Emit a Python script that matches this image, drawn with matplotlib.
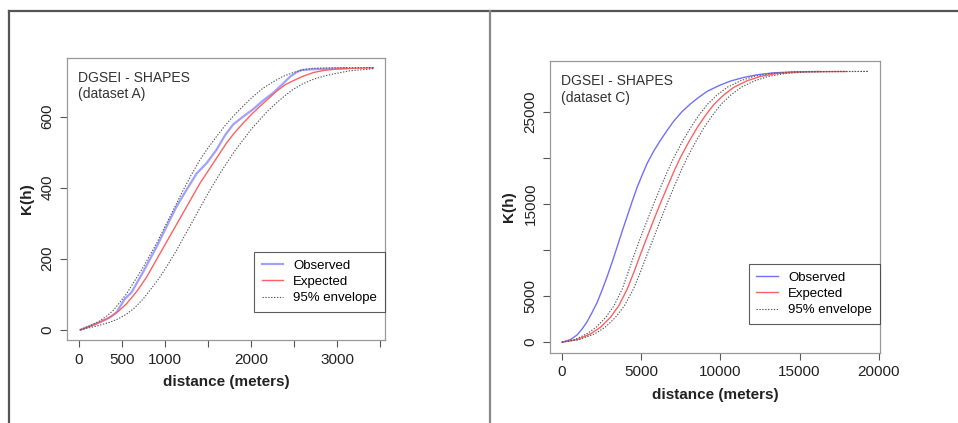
import matplotlib

matplotlib.use("Agg")
import matplotlib.pyplot as plt
from matplotlib.lines import Line2D

plt.rcParams["font.family"] = ["Liberation Sans", "DejaVu Sans"]

# dataset A (left panel)
a_obs_d = [20, 100, 167, 250, 322, 380, 438, 535, 612, 680, 748, 830, 903, 1019, 1136, 1252, 1370, 1485,
           1601, 1700, 1794, 1910, 2027, 2140, 2260, 2360, 2453, 2530, 2589, 2700, 2802, 3111]
a_obs_k = [0, 8, 14, 22, 30, 38, 49, 87, 105, 134, 163, 200, 233, 290, 347, 394, 440, 469,
           507, 548, 578, 600, 621, 645, 667, 690, 712, 725, 731, 733, 734, 736]
a_exp_d = [20, 200, 360, 460, 554, 680, 787, 942, 1097, 1252, 1407, 1562, 1717, 1811, 1911, 2005, 2105,
           2200, 2300, 2400, 2500, 2600, 2725, 2850, 2997, 3200, 3422]
a_exp_k = [0, 16, 35, 52, 73, 110, 148, 214, 280, 346, 412, 469, 526, 555, 582, 606, 629,
           650, 672, 690, 702, 713, 724, 730, 734, 736, 737]
a_hi_d = [20, 120, 244, 320, 399, 470, 554, 650, 748, 903, 1058, 1213, 1307, 1407, 1505, 1601, 1700, 1794,
          1910, 2027, 2140, 2260, 2370, 2492, 2608, 2725, 2900, 3422]
a_hi_k = [0, 10, 25, 38, 54, 75, 101, 138, 176, 243, 318, 393, 436, 478, 513, 544, 575, 601,
          630, 657, 680, 698, 713, 724, 732, 736, 737, 738]
a_lo_d = [20, 200, 360, 460, 554, 650, 748, 842, 942, 1040, 1136, 1230, 1329, 1426, 1523, 1620, 1717,
          1811, 1911, 2005, 2105, 2200, 2299, 2400, 2492, 2600, 2725, 2850, 2997, 3151, 3300, 3422]
a_lo_k = [0, 10, 21, 31, 44, 62, 87, 116, 148, 185, 224, 265, 308, 351, 393, 432, 469,
          503, 535, 565, 592, 617, 639, 660, 677, 692, 705, 714, 722, 729, 732, 735]

# dataset C (right panel)
c_obs_d = [0, 524, 948, 1263, 1579, 1895, 2211, 2527, 2843, 3159, 3474, 3790, 4106, 4422, 4738, 5054,
           5369, 5791, 6210, 6633, 7053, 7580, 8105, 8630, 9160, 9895, 10632, 11472, 12318, 13368,
           14845, 16300]
c_obs_k = [0, 281, 788, 1435, 2223, 3237, 4316, 5676, 7122, 8698, 10359, 12043, 13662, 15281, 16835, 18162,
           19424, 20784, 21938, 23017, 24025, 25067, 25898, 26610, 27262, 27874, 28379, 28774, 29060, 29276,
           29384, 29420]
c_exp_d = [0, 948, 1788, 2420, 3051, 3576, 4106, 4523, 4946, 5369, 5791, 6210, 6633, 7053, 7473, 7998,
           8528, 9052, 9577, 10209, 10840, 11687, 12527, 13582, 15054, 17897]
c_exp_k = [0, 281, 896, 1619, 2698, 3949, 5752, 7554, 9529, 11439, 13306, 15108, 16835, 18519, 20071, 21755,
           23309, 24636, 25823, 26868, 27694, 28413, 28882, 29204, 29384, 29420]
c_hi_d = [0, 800, 1550, 2150, 2760, 3270, 3790, 4160, 4560, 4970, 5390, 5800, 6220, 6640, 7060, 7580,
          8110, 8630, 9160, 9790, 10420, 11270, 12100, 13150, 14600, 17000, 19300]
c_hi_k = [0, 281, 896, 1619, 2698, 3949, 5752, 7554, 9529, 11439, 13306, 15108, 16835, 18519, 20071, 21755,
          23309, 24636, 25823, 26868, 27694, 28413, 28882, 29204, 29384, 29420, 29420]
c_lo_d = [0, 1100, 2050, 2720, 3370, 3930, 4500, 4930, 5370, 5800, 6220, 6640, 7060, 7480, 7900, 8430,
          8960, 9490, 10020, 10660, 11300, 12170, 13030, 14100, 15600, 19300]
c_lo_k = [0, 281, 896, 1619, 2698, 3949, 5752, 7554, 9529, 11439, 13306, 15108, 16835, 18519, 20071, 21755,
          23309, 24636, 25823, 26868, 27694, 28413, 28882, 29204, 29384, 29430]

a_xticks = [0, 500, 1000, 1500, 2000, 2500, 3000, 3500]
a_xlabels = ["0", "500", "1000", "", "2000", "", "3000", ""]
a_yticks = [0, 200, 400, 600]
c_xticks = [0, 5000, 10000, 15000, 20000]
c_yticks = [0, 5000, 10000, 15000, 20000, 25000]
c_ylabels = ["0", "5000", "", "15000", "", "25000"]

EXP = "#ff6060"
ENV = "#555555"


def draw(ax, obs, exp, hi, lo, xlim, ylim, xticks, xlabels, yticks, ylabels, title, obs_style):
    ax.plot(*obs, label="Observed", **obs_style)
    ax.plot(*exp, color=EXP, lw=1.0, label="Expected")
    ax.plot(*hi, color=ENV, lw=0.8, ls=(0, (1.2, 1.4)), label="95% envelope")
    ax.plot(*lo, color=ENV, lw=0.8, ls=(0, (1.2, 1.4)))
    ax.set_xlim(*xlim)
    ax.set_ylim(*ylim)
    ax.set_xticks(xticks)
    ax.set_xticklabels(xlabels, fontsize=11, color="#222222")
    ax.set_yticks(yticks)
    ax.set_yticklabels(ylabels, fontsize=11, rotation=90, va="center", color="#222222")
    ax.tick_params(direction="out", length=5, width=0.8, color="#555555", pad=4)
    for s in ax.spines.values():
        s.set_color("#999999")
        s.set_linewidth(0.9)
    ax.set_xlabel("distance (meters)", fontsize=11, fontweight="bold", labelpad=6, color="#222222")
    ax.set_ylabel("K(h)", fontsize=11, fontweight="bold", labelpad=5, color="#222222")
    ax.text(0.035, 0.955, title, transform=ax.transAxes, fontsize=10,
            va="top", ha="left", color="#333333", linespacing=1.25)
    leg = ax.legend(loc="lower right", bbox_to_anchor=(1.0, 0.099), fontsize=9.5,
                    frameon=True, fancybox=False, edgecolor="#333333",
                    handlelength=1.6, borderpad=0.6, labelspacing=0.3, borderaxespad=0,
                    handletextpad=0.8)
    leg.get_frame().set_linewidth(0.8)


fig = plt.figure(figsize=(9.58, 4.23), dpi=100)

ax1 = fig.add_axes([0.0699, 0.196, 0.332, 0.667])
draw(ax1, (a_obs_d, a_obs_k), (a_exp_d, a_exp_k), (a_hi_d, a_hi_k), (a_lo_d, a_lo_k),
     (-137, 3557), (-29, 765), a_xticks, a_xlabels, a_yticks, [str(v) for v in a_yticks],
     "DGSEI - SHAPES\n(dataset A)", dict(color="#a0a0ff", lw=1.6))

ax2 = fig.add_axes([0.574, 0.1655, 0.3445, 0.690])
draw(ax2, (c_obs_d, c_obs_k), (c_exp_d, c_exp_k), (c_hi_d, c_hi_k), (c_lo_d, c_lo_k),
     (-772, 20072), (-1175, 30545), c_xticks, [str(v) for v in c_xticks], c_yticks, c_ylabels,
     "DGSEI - SHAPES\n(dataset C)", dict(color="#7070ff", lw=1.0))

# outer frame lines of the original figure
frame = dict(color="#555555", lw=1.6, transform=fig.transFigure)
fig.add_artist(Line2D([9 / 958, 1.0], [1 - 11 / 423, 1 - 11 / 423], **frame))
fig.add_artist(Line2D([9 / 958, 9 / 958], [0, 1 - 11 / 423], **frame))
fig.add_artist(Line2D([490 / 958, 490 / 958], [0, 1 - 11 / 423], color="#888888", lw=1.6,
                      transform=fig.transFigure))

fig.savefig("out.png", dpi=100)
